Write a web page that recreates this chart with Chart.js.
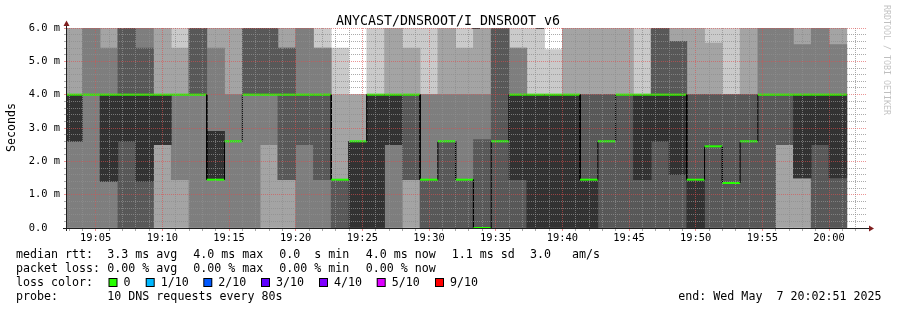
<!DOCTYPE html>
<html>
<head>
<meta charset="utf-8">
<script src="https://cdn.jsdelivr.net/npm/chart.js@4.4.1/dist/chart.umd.min.js"></script>
<style>
  html, body { margin: 0; padding: 0; background: #fff; }
</style>
</head>
<body>
<canvas id="smoke" width="897" height="310"></canvas>
<script>
// RTT in ms. H = above the top of the graph (clipped)
const H = 6.7;

// end time of each 80 s sample
const sampleEnds = [
  '19:04:00','19:05:20','19:06:40','19:08:00','19:09:20','19:10:40','19:12:00','19:13:20',
  '19:14:40','19:16:00','19:17:20','19:18:40','19:20:00','19:21:20','19:22:40','19:24:00',
  '19:25:20','19:26:40','19:28:00','19:29:20','19:30:40','19:32:00','19:33:20','19:34:40',
  '19:36:00','19:37:20','19:38:40','19:40:00','19:41:20','19:42:40','19:44:00','19:45:20',
  '19:46:40','19:48:00','19:49:20','19:50:40','19:52:00','19:53:20','19:54:40','19:56:00',
  '19:57:20','19:58:40','20:00:00','20:01:20'
];

// the 10 pings of each sample, sorted (ping1 = fastest)
const ping1 = Array(44).fill(0);
const ping2 = Array(44).fill(0);
const ping3 = [0,0,0,0,0,2.5,1.45,0,0,0,0,2.5,1.45,0,0,0,0,0,0,1.45,0,0,0,0,0,0,0,0,0,0,0,0,0,0,0,0,0,0,0,0,2.5,1.5,0,0];
const ping4 = [2.6,4,1.4,0,0,2.5,4,4,1.45,2.6,4,4,1.45,2.5,1.45,0,0,0,2.5,1.45,0,0,0,0,0,0,0,0,0,0,0,0,0,0,0,0,0,0,0,0,2.5,1.5,0,0];
const ping5 = [2.6,4,1.4,2.6,1.4,2.5,4,4,1.45,2.6,4,4,4,4,4,1.45,0,0,2.5,4,1.45,2.6,1.45,0,2.6,1.45,0,0,0,0,2.6,4,1.45,2.6,1.6,0,2.45,1.35,2.6,4,4,1.5,2.5,1.5];
const ping6 = [4,4,4,4,4,4,4,4,2.9,2.6,4,4,4,4,4,1.45,2.6,4,4,4,1.45,2.6,1.45,0,2.6,4,4,4,4,1.45,2.6,4,4,4,4,1.45,2.45,1.35,2.6,4,4,4,4,4];
const ping7 = [4,4,4,H,5.4,4,4,H,2.9,2.6,H,H,5.4,4,4,1.45,2.6,4,4,4,1.45,2.6,1.45,2.65,H,4,4,4,4,4,4,4,4,H,5.6,4,4,4,4,4,4,4,4,4];
const ping8 = [4,H,5.4,H,H,4,4,H,5.4,4,H,H,5.4,H,5.4,1.45,2.6,4,4,4,4,4,4,4,H,5.4,4,4,4,4,4,4,4,H,5.6,4,4,4,4,H,H,5.5,H,5.5];
const ping9 = [H,H,H,H,H,H,5.4,H,H,H,H,H,H,H,5.4,4,4,4,H,5.4,4,H,5.4,H,H,5.4,4,4,H,H,H,H,4,H,H,H,5.55,4,H,H,H,H,H,H];
const ping10 = [H,H,H,H,H,H,H,H,H,H,H,H,H,H,H,5.4,4,H,H,H,H,H,H,H,H,H,H,5.35,H,H,H,H,H,H,H,H,H,H,H,H,H,H,H,H];

// median rtt of each sample
const medianRtt = [4,4,4,4,4,4,4,4,1.45,2.6,4,4,4,4,4,1.45,2.6,4,4,4,1.45,2.6,1.45,0,2.6,4,4,4,4,1.45,2.6,4,4,4,4,1.45,2.45,1.35,2.6,4,4,4,4,4];

const graphStart = '19:02:51';
const graphEnd = '20:02:51';
const xTickLabels = ['19:05','19:10','19:15','19:20','19:25','19:30','19:35','19:40','19:45','19:50','19:55','20:00'];
const yTickLabels = ['0.0  ','1.0 m','2.0 m','3.0 m','4.0 m','5.0 m','6.0 m'];

const rttStats = ['3.3 ms avg','4.0 ms max','0.0  s min','4.0 ms now','1.1 ms sd','3.0   am/s'];
const lossStats = ['0.00 % avg','0.00 % max','0.00 % min','0.00 % now'];
const lossLevels = ['0','1/10','2/10','3/10','4/10','5/10','9/10'];
const lossColors = ['#26ff00','#00b8ff','#0059ff','#5e00ff','#7e00ff','#dd00ff','#ff0000'];
const probeText = '10 DNS requests every 80s';
const endText = 'end: Wed May  7 20:02:51 2025';

function toSec(s) {
  const p = s.split(':').map(Number);
  return (p[0] - 19) * 3600 + p[1] * 60 + (p[2] || 0);
}

const ends = sampleEnds.map(toSec);
const step = ends[1] - ends[0];
const pings = [ping1, ping2, ping3, ping4, ping5, ping6, ping7, ping8, ping9, ping10];
const smokeGreys = ['#cacaca', '#a4a4a4', '#7e7e7e', '#585858', '#323232'];
const majorX = new Set(xTickLabels.map(toSec));

const MONO = '"DejaVu Sans Mono", monospace';
const GRID = 'rgba(143,143,143,0.75)';
const MGRID = 'rgba(222,79,79,0.6)';

const datasets = [];

// median: horizontal parts in loss colour, vertical joins in black
datasets.push({
  type: 'line',
  xAxisID: 'x',
  yAxisID: 'y',
  order: 0,
  data: ends.flatMap((e, j) => [{x: e - step, y: medianRtt[j]}, {x: e, y: medianRtt[j]}]),
  pointRadius: 0,
  borderWidth: 2,
  borderColor: '#26ff00',
  segment: {
    borderColor: c => c.p0.parsed.x === c.p1.parsed.x ? '#000000' : '#26ff00',
    borderWidth: c => c.p0.parsed.x === c.p1.parsed.x ? 1 : 2
  },
  fill: false
});

// smoke: band k spans ping k .. ping (11-k)
for (let k = 0; k < 5; k++) {
  const col = smokeGreys[k];
  datasets.push({
    type: 'bar',
    xAxisID: 'xb',
    yAxisID: 'y',
    order: 10 - k,
    grouped: false,
    barPercentage: 1,
    categoryPercentage: 1,
    borderWidth: 0,
    data: ends.map((e, j) => ({x: e - step / 2, y: [pings[k][j], pings[9 - k][j]]})),
    backgroundColor: c => (c.raw && c.raw.y && c.raw.y[0] === c.raw.y[1]) ? 'rgba(0,0,0,0)' : col
  });
}

const decor = {
  id: 'decor',
  afterDraw(chart) {
    const ctx = chart.ctx;
    const a = chart.chartArea;
    ctx.save();

    // axes
    ctx.fillStyle = 'rgb(31,31,31)';
    ctx.fillRect(63, a.bottom, a.right + 2 - 63, 1);
    ctx.fillRect(a.left - 1, 24, 1, a.bottom + 3 - 24);
    ctx.fillStyle = 'rgb(128,31,31)';
    ctx.beginPath();
    ctx.moveTo(a.left - 0.5, 20.5);
    ctx.lineTo(a.left - 3.5, 26);
    ctx.lineTo(a.left + 2.5, 26);
    ctx.closePath();
    ctx.fill();
    ctx.beginPath();
    ctx.moveTo(a.right + 7, a.bottom + 0.5);
    ctx.lineTo(a.right + 2, a.bottom - 2.5);
    ctx.lineTo(a.right + 2, a.bottom + 3.5);
    ctx.closePath();
    ctx.fill();

    // title
    ctx.fillStyle = '#000';
    ctx.font = '13.3px ' + MONO;
    ctx.textAlign = 'center';
    ctx.textBaseline = 'alphabetic';
    ctx.fillText('ANYCAST/DNSROOT/I_DNSROOT_v6', 448, 25);

    // y axis title
    ctx.font = '11.65px ' + MONO;
    ctx.save();
    ctx.translate(15, 127.5);
    ctx.rotate(-Math.PI / 2);
    ctx.fillText('Seconds', 0, 0);
    ctx.restore();

    // watermark
    ctx.save();
    ctx.fillStyle = 'rgba(0,0,0,0.25)';
    ctx.font = '8.3px ' + MONO;
    ctx.translate(884, 60);
    ctx.rotate(Math.PI / 2);
    ctx.fillText('RRDTOOL / TOBI OETIKER', 0, 0);
    ctx.restore();

    // legend
    ctx.textAlign = 'left';
    ctx.font = '11.65px ' + MONO;
    const cols = [107.3, 193.3, 279.3, 365.7, 451.7, 530];
    ctx.fillText('median rtt:', 16, 258);
    rttStats.forEach((t, i) => ctx.fillText(t, cols[i], 258));
    ctx.fillText('packet loss:', 16, 272);
    lossStats.forEach((t, i) => ctx.fillText(t, cols[i], 272));
    ctx.fillText('loss color:', 16, 286);
    const boxX = [108.5, 145.7, 203.3, 261, 319, 376.7, 435];
    lossLevels.forEach((t, i) => {
      ctx.fillStyle = '#000';
      ctx.fillRect(boxX[i], 278, 9, 9);
      ctx.fillStyle = lossColors[i];
      ctx.fillRect(boxX[i] + 1, 279, 7, 7);
      ctx.fillStyle = '#000';
      ctx.fillText(t, boxX[i] + 15, 286);
    });
    ctx.fillText('probe:', 16, 299.5);
    ctx.fillText(probeText, 107.3, 299.5);
    ctx.fillText(endText, 678.3, 299.5);
    ctx.restore();
  }
};

new Chart(document.getElementById('smoke'), {
  data: { datasets: datasets },
  options: {
    responsive: false,
    animation: false,
    events: [],
    layout: { padding: { left: 0, right: 30, top: 28, bottom: 0 } },
    plugins: { legend: { display: false }, tooltip: { enabled: false }, title: { display: false } },
    scales: {
      x: {
        type: 'linear',
        position: 'bottom',
        min: toSec(graphStart),
        max: toSec(graphEnd),
        bounds: 'data',
        offset: false,
        afterBuildTicks: s => {
          const t = [];
          for (let v = Math.ceil(s.min / 60) * 60; v <= s.max; v += 60) t.push({value: v});
          s.ticks = t;
        },
        afterFit: s => { s.height = 82; },
        grid: {
          z: 1,
          color: c => majorX.has(c.tick && c.tick.value) ? MGRID : GRID,
          tickColor: c => majorX.has(c.tick && c.tick.value) ? MGRID : GRID,
          lineWidth: 1,
          tickLength: 3,
          offset: false
        },
        border: { display: false, dash: [1, 1] },
        ticks: {
          autoSkip: false,
          maxRotation: 0,
          minRotation: 0,
          padding: 1,
          color: '#000',
          font: { family: MONO, size: 10.4 },
          callback: v => {
            const i = xTickLabels.findIndex(l => toSec(l) === v);
            return i >= 0 ? xTickLabels[i] : '';
          }
        }
      },
      xb: {
        type: 'linear',
        display: false,
        min: toSec(graphStart),
        max: toSec(graphEnd),
        bounds: 'data',
        offset: false,
        grid: { offset: false },
        afterBuildTicks: s => { s.ticks = [{value: s.min}]; }
      },
      y: {
        type: 'linear',
        min: 0,
        max: 6,
        bounds: 'data',
        afterBuildTicks: s => {
          const t = [];
          for (let i = 0; i <= 30; i++) t.push({value: i / 5});
          s.ticks = t;
        },
        afterFit: s => { s.width = 67; },
        grid: {
          z: 1,
          color: c => (c.tick && Math.abs(c.tick.value - Math.round(c.tick.value)) < 1e-6) ? MGRID : GRID,
          tickColor: c => (c.tick && Math.abs(c.tick.value - Math.round(c.tick.value)) < 1e-6) ? MGRID : GRID,
          lineWidth: 1,
          tickLength: 3
        },
        border: { display: false, dash: [1, 1] },
        ticks: {
          autoSkip: false,
          padding: 4,
          color: '#000',
          font: { family: MONO, size: 10.4 },
          callback: v => {
            const r = Math.round(v);
            return Math.abs(v - r) < 1e-6 ? yTickLabels[r] : '';
          }
        }
      }
    }
  },
  plugins: [decor]
});
</script>
</body>
</html>
